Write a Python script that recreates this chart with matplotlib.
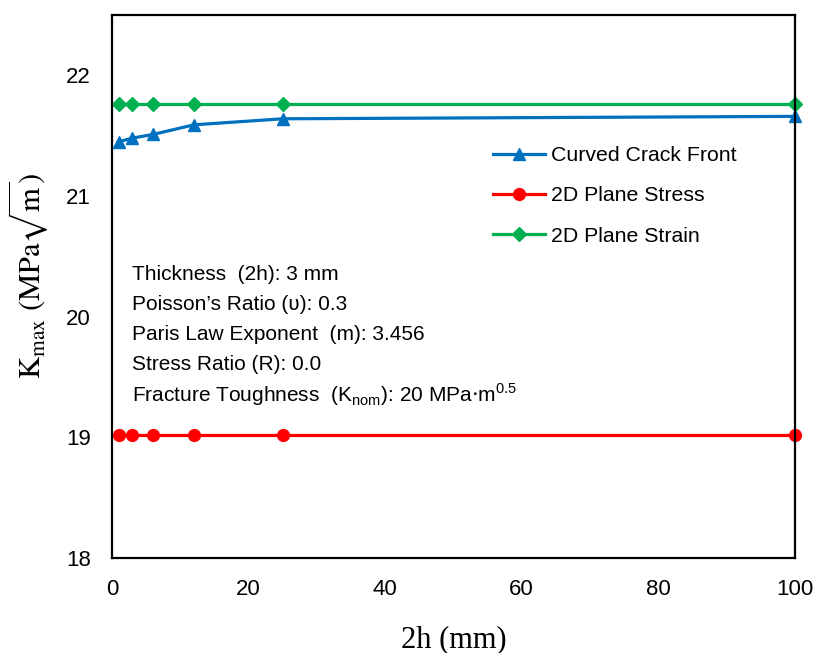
import matplotlib
matplotlib.use("Agg")
import matplotlib.pyplot as plt

# data
thickness = [1, 3, 6, 12, 25, 100]
curved_front = [21.45, 21.48, 21.51, 21.59, 21.64, 21.66]
plane_stress = [19.02, 19.02, 19.02, 19.02, 19.02, 19.02]
plane_strain = [21.76, 21.76, 21.76, 21.76, 21.76, 21.76]

info_lines = [
    "Thickness  (2h): 3 mm",
    "Poisson\u2019s Ratio (\u028b): 0.3",
    "Paris Law Exponent  (m): 3.456",
    "Stress Ratio (R): 0.0",
    r"Fracture Toughness  (K$_{\mathregular{nom}}$): 20 MPa$\cdot$m$^{\mathregular{0.5}}$",
]

plt.rcParams["font.family"] = ["Liberation Sans", "DejaVu Sans"]

fig = plt.figure(figsize=(8.17, 6.53), dpi=100)
ax = fig.add_axes([0.137, 0.1455, 0.836, 0.8315])

ax.plot(thickness, curved_front, color="#0070C0", lw=2.3, marker="^", ms=9, clip_on=False, label="Curved Crack Front")
ax.plot(thickness, plane_stress, color="#FF0000", lw=2.3, marker="o", ms=8.5, clip_on=False, label="2D Plane Stress")
ax.plot(thickness, plane_strain, color="#00B050", lw=2.3, marker="D", ms=7.5, clip_on=False, label="2D Plane Strain")

ax.set_xlim(0, 100)
ax.set_ylim(18, 22.5)
ax.set_xticks([0, 20, 40, 60, 80, 100])
ax.set_yticks([18, 19, 20, 21, 22])
ax.tick_params(length=0, labelsize=16, pad=15)
for s in ax.spines.values():
    s.set_linewidth(1.6)

ax.set_xlabel("2h (mm)", fontsize=22, family="Liberation Serif", labelpad=18)
ax.set_ylabel(r"$\mathrm{K_{max}\ (MPa\sqrt{m})}$", fontsize=22, math_fontfamily="stix", labelpad=12)
ax.yaxis.label.set_y(0.52)

ax.legend(loc="center left", bbox_to_anchor=(0.53, 0.6667), frameon=False, fontsize=15.3,
          handlelength=2.45, labelspacing=1.0, handletextpad=0.3)

for i, line in enumerate(info_lines):
    ax.text(0.029, 0.522 - i * 0.0553, line, transform=ax.transAxes, fontsize=15, va="center")

fig.savefig("out.png", dpi=100)
